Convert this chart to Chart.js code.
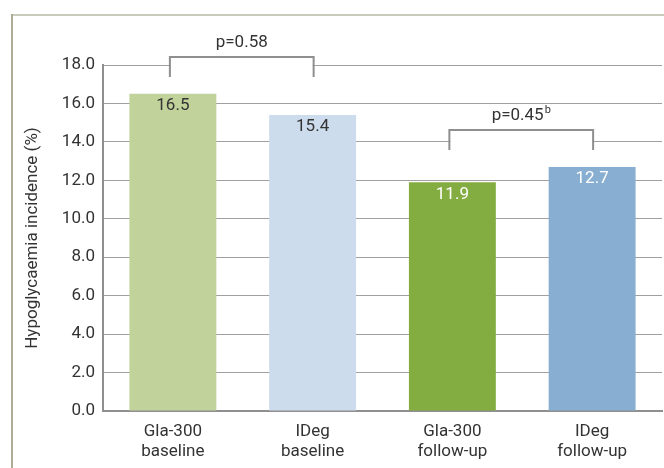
<!DOCTYPE html>
<html>
<head>
<meta charset="utf-8">
<script src="https://cdn.jsdelivr.net/npm/chart.js@4/dist/chart.umd.min.js"></script>
<style>
  html, body { margin: 0; padding: 0; background: #ffffff; }
  #wrap { position: relative; width: 664px; height: 468px; }
</style>
</head>
<body>
<div id="wrap"><canvas id="chart" width="664" height="468"></canvas></div>
<script>
// Treatment groups (two-line axis labels)
const categories = [
  ['Gla-300', 'baseline'],
  ['IDeg', 'baseline'],
  ['Gla-300', 'follow-up'],
  ['IDeg', 'follow-up']
];
// Hypoglycaemia incidence, %
const incidence = [16.5, 15.4, 11.9, 12.7];
// Y axis range and tick step
const yMin = 0;
const yMax = 18;
const yStep = 2;
// Pairwise comparisons shown as brackets above the bars
const comparisons = [
  { from: 0, to: 1, text: 'p=0.58', sup: '' },
  { from: 2, to: 3, text: 'p=0.45', sup: 'b' }
];

const barColors = ['#c1d39b', '#cddcec', '#84ad41', '#88afd1'];
const labelColors = ['#333333', '#333333', '#ffffff', '#ffffff'];
const FONT = 'Roboto, "Liberation Sans", sans-serif';
const TEXT = '#333333';
const LINE = '#8f8f8f';

// Page frame: thin rule along the top and the left edge
const framePlugin = {
  id: 'frame',
  beforeDraw(chart) {
    const ctx = chart.ctx;
    ctx.save();
    ctx.fillStyle = '#ffffff';
    ctx.fillRect(0, 0, chart.width, chart.height);
    ctx.fillStyle = '#cbcbbb';
    ctx.fillRect(12, 14, chart.width - 12, 2);
    ctx.fillStyle = '#abab96';
    ctx.fillRect(11, 14, 2, chart.height - 14);
    ctx.restore();
  }
};

// Value labels just inside the top of each bar
const valueLabelPlugin = {
  id: 'valueLabels',
  afterDatasetsDraw(chart) {
    const ctx = chart.ctx;
    const meta = chart.getDatasetMeta(0);
    ctx.save();
    ctx.font = '17px ' + FONT;
    ctx.textAlign = 'center';
    ctx.textBaseline = 'middle';
    meta.data.forEach((bar, i) => {
      ctx.fillStyle = labelColors[i];
      ctx.fillText(incidence[i].toFixed(1), bar.x, bar.y + 12);
    });
    ctx.restore();
  }
};

// Significance brackets with p-values
const bracketPlugin = {
  id: 'brackets',
  afterDatasetsDraw(chart) {
    const ctx = chart.ctx;
    const y = chart.scales.y;
    const meta = chart.getDatasetMeta(0);
    ctx.save();
    comparisons.forEach(c => {
      const top = Math.max(incidence[c.from], incidence[c.to]) + 1.9;
      const x1 = meta.data[c.from].x - 3;
      const x2 = meta.data[c.to].x + 1;
      const yTop = Math.round(y.getPixelForValue(top));
      const yBot = Math.round(y.getPixelForValue(top - 1.0));
      // blank out grid lines inside the bracket
      ctx.fillStyle = '#ffffff';
      ctx.fillRect(x1 + 1, yTop, x2 - x1 - 2, yBot - yTop + 1);
      ctx.strokeStyle = LINE;
      ctx.lineWidth = 2;
      ctx.beginPath();
      ctx.moveTo(x1, yBot);
      ctx.lineTo(x1, yTop);
      ctx.lineTo(x2, yTop);
      ctx.lineTo(x2, yBot);
      ctx.stroke();
      // p-value text with optional superscript
      ctx.fillStyle = TEXT;
      ctx.textBaseline = 'alphabetic';
      ctx.font = '17px ' + FONT;
      const w1 = ctx.measureText(c.text).width;
      ctx.font = '11px ' + FONT;
      const w2 = c.sup ? ctx.measureText(c.sup).width + 1 : 0;
      const cx = (x1 + x2) / 2;
      const start = cx - (w1 + w2) / 2;
      const base = yTop - 10;
      ctx.textAlign = 'left';
      ctx.font = '17px ' + FONT;
      ctx.fillText(c.text, start, base);
      if (c.sup) {
        ctx.font = '11px ' + FONT;
        ctx.fillText(c.sup, start + w1 + 1, base - 7);
      }
    });
    ctx.restore();
  }
};

new Chart(document.getElementById('chart'), {
  type: 'bar',
  data: {
    labels: categories,
    datasets: [{
      data: incidence,
      backgroundColor: barColors,
      borderWidth: 0,
      barPercentage: 0.622,
      categoryPercentage: 1.0
    }]
  },
  options: {
    responsive: false,
    animation: false,
    events: [],
    layout: { padding: { top: 65, left: 12, right: 2, bottom: 0 } },
    plugins: {
      legend: { display: false },
      tooltip: { enabled: false }
    },
    scales: {
      x: {
        grid: { display: false, drawTicks: false },
        border: { display: true, color: LINE, width: 2 },
        ticks: {
          color: TEXT,
          padding: 11,
          font: { family: FONT, size: 17, lineHeight: 1.15 }
        },
        afterFit(scale) { scale.height = 57; }
      },
      y: {
        min: yMin,
        max: yMax,
        grid: { color: '#a0a0a0', lineWidth: 1, drawTicks: false },
        border: { display: true, color: LINE, width: 2 },
        ticks: {
          stepSize: yStep,
          color: TEXT,
          padding: 8,
          font: { family: FONT, size: 17 },
          callback: v => Number(v).toFixed(1)
        },
        title: {
          display: true,
          text: 'Hypoglycaemia incidence (%)',
          color: TEXT,
          padding: { top: 11, bottom: 0 },
          font: { family: FONT, size: 17 }
        },
        afterFit(scale) { scale.width = 91; }
      }
    }
  },
  plugins: [framePlugin, valueLabelPlugin, bracketPlugin]
});
</script>
</body>
</html>
